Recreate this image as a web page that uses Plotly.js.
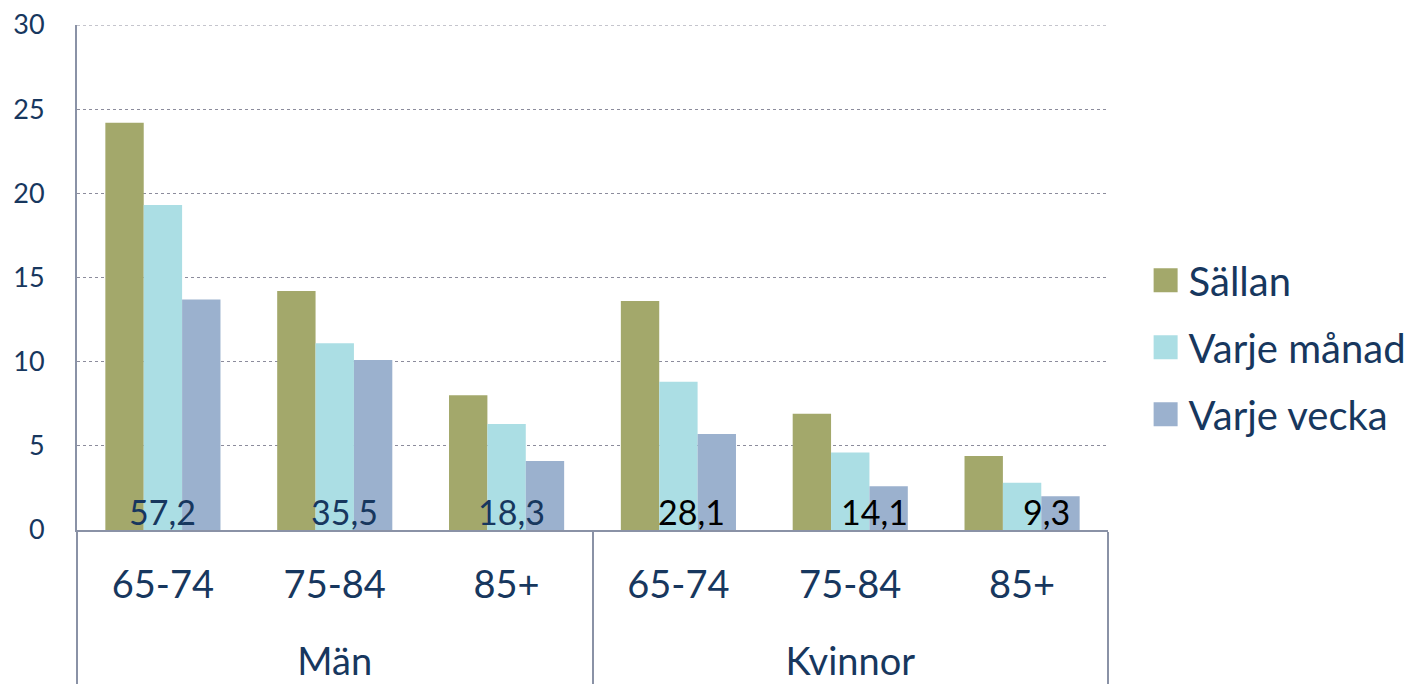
<!DOCTYPE html>
<html>
<head>
<meta charset="utf-8">
<script src="https://cdn.plot.ly/plotly-3.0.1.min.js"></script>
<style>html,body{margin:0;padding:0;background:#fff;}#chart{width:1412px;height:688px;}</style>
</head>
<body>
<div id="chart"></div>
<script>
const groups = ["Män","Män","Män","Kvinnor","Kvinnor","Kvinnor"];
const ages = ["65-74","75-84","85+","65-74","75-84","85+"];
const seriesNames = ["Sällan","Varje månad","Varje vecka"];
const sallan = [24.2, 14.2, 8.0, 13.6, 6.9, 4.4];
const varjeManad = [19.3, 11.1, 6.3, 8.8, 4.6, 2.8];
const varjeVecka = [13.7, 10.1, 4.1, 5.7, 2.6, 2.0];
const totals = ["57,2","35,5","18,3","28,1","14,1","9,3"];
const yTicks = [0,5,10,15,20,25,30];

// styling
const colors = ["#A3A86B","#ABDEE4","#9BB1CE"];
const totalColors = ["#17375E","#17375E","#17375E","#000000","#000000","#000000"];
const totalNudgePx = [0, 10, 5, 13, 24, 24];
const navy = "#17375E";
const fontFam = "Lato, 'Open Sans', sans-serif";
// group labels sit one line lower, as in the reference
const xcat = [groups.map(g => "<br>" + g), ages];

const data = [sallan, varjeManad, varjeVecka].map((vals, i) => ({
  type: "bar",
  name: seriesNames[i],
  x: xcat,
  y: vals,
  marker: {color: colors[i]},
  legendgroup: "g" + i,
  hoverinfo: "none"
}));

const annotations = totals.map((t, i) => ({
  xref: "x", yref: "y",
  x: i, y: 1.1,
  xshift: totalNudgePx[i],
  text: t,
  showarrow: false,
  xanchor: "center", yanchor: "middle",
  font: {family: fontFam, size: 34, color: totalColors[i]}
}));

const layout = {
  width: 1412,
  height: 688,
  margin: {l: 77, r: 304, t: 25, b: 158},
  paper_bgcolor: "#ffffff",
  plot_bgcolor: "#ffffff",
  barmode: "group",
  bargap: 0.33,
  bargroupgap: 0,
  font: {family: fontFam, color: navy},
  showlegend: true,
  legend: {
    x: 1.02, xanchor: "left",
    y: 0.362, yanchor: "middle",
    font: {family: fontFam, size: 40, color: navy},
    tracegroupgap: 12,
    traceorder: "grouped",
    bgcolor: "rgba(0,0,0,0)"
  },
  annotations: annotations,
  shapes: [{
    type: "line", xref: "paper", yref: "y",
    x0: 0, x1: 1, y0: 30, y1: 30,
    line: {color: "#8C8C9C", width: 1, dash: "dot"}
  }],
  xaxis: {
    type: "multicategory",
    showline: true,
    linecolor: "#8A92A6",
    linewidth: 2,
    showgrid: false,
    ticks: "",
    ticklabelstandoff: 20,
    tickfont: {family: fontFam, size: 38, color: navy},
    showdividers: true,
    dividercolor: "#8A92A6",
    dividerwidth: 2,
    zeroline: false
  },
  yaxis: {
    range: [0, 30],
    tickvals: yTicks,
    ticktext: yTicks.map(String),
    showline: true,
    linecolor: "#8A92A6",
    linewidth: 2,
    showgrid: true,
    gridcolor: "#8C8C9C",
    griddash: "dot",
    gridwidth: 1,
    zeroline: false,
    ticks: "",
    ticklabelstandoff: 25,
    tickfont: {family: fontFam, size: 27, color: navy}
  }
};

Plotly.newPlot("chart", data, layout, {displayModeBar: false, staticPlot: true}).then(gd => {
  gd.querySelectorAll(".legend .legendpoints path").forEach(p => {
    p.setAttribute("d", "M29,12H5V-12H29Z");
    p.removeAttribute("transform");
  });
  const lg = gd.querySelector(".legend");
  if (lg) {
    const m = /translate\(\s*([-\d.]+)[ ,]+([-\d.]+)\s*\)/.exec(lg.getAttribute("transform") || "");
    if (m) lg.setAttribute("transform", "translate(" + (parseFloat(m[1]) + 20) + "," + m[2] + ")");
  }
});
</script>
</body>
</html>
